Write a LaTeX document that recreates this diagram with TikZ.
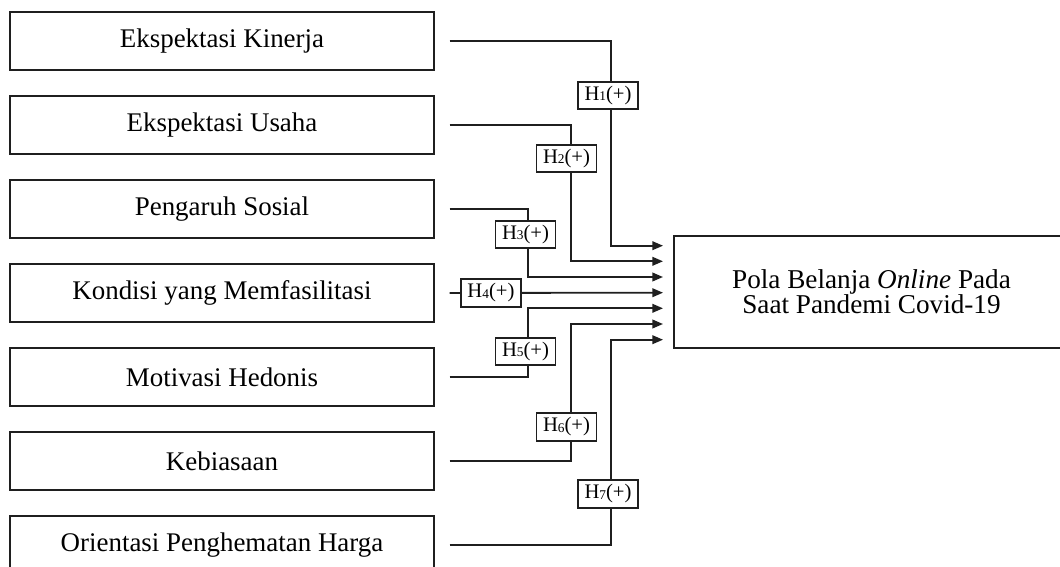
\documentclass[tikz,border=0pt]{standalone}
\usepackage{fontspec}
\setmainfont{Liberation Serif}
\usetikzlibrary{arrows.meta}
\begin{document}
\begin{tikzpicture}[x=0.75pt,y=-0.75pt,
  lw/.style={line width=1.35pt,draw=black!88},
  varbox/.style={draw,lw,minimum width=318pt,minimum height=43.5pt,inner sep=0pt,
    font=\fontsize{20.2}{24}\selectfont},
  depbox/.style={draw,lw,minimum width=296pt,minimum height=84pt,inner sep=0pt,align=center,
    font=\fontsize{20.4}{18.8}\selectfont},
  hbox/.style={draw,lw,fill=white,minimum width=45pt,minimum height=20.5pt,inner sep=0pt,
    font=\fontsize{15.5}{17}\selectfont},
  conn/.style={lw,shorten <=11pt,-{Triangle[length=8pt,width=6.5pt]}},
]
\useasboundingbox (0,0) rectangle (1060,567);
\clip (0,0) rectangle (1060,567);
\newcommand{\hyp}[1]{H\raisebox{-0.3pt}{\fontsize{10}{10}\selectfont #1}(+)}
% left boxes
\node[varbox] (b1) at (222,41) {Ekspektasi Kinerja};
\node[varbox] (b2) at (222,125) {Ekspektasi Usaha};
\node[varbox] (b3) at (222,209) {Pengaruh Sosial};
\node[varbox] (b4) at (222,293) {Kondisi yang Memfasilitasi};
\node[varbox] (b5) at (222,377) {Motivasi Hedonis};
\node[varbox] (b6) at (222,461) {Kebiasaan};
\node[varbox] (b7) at (222,545) {Orientasi Penghematan Harga};
% right box
\node[depbox] (P) at (871.5,292) {Pola Belanja \textit{Online} Pada\\Saat Pandemi Covid-19};
% targets
\coordinate (t1) at (663,245.7);
\coordinate (t2) at (663,261.3);
\coordinate (t3) at (663,277);
\coordinate (t4) at (663,292.7);
\coordinate (t5) at (663,308.3);
\coordinate (t6) at (663,324);
\coordinate (t7) at (663,339.7);
% bends
\coordinate (k1) at (611,245.7);
\coordinate (k2) at (571,261.3);
\coordinate (k3) at (528,277);
\coordinate (k5) at (528,308.3);
\coordinate (k6) at (571,324);
\coordinate (k7) at (611,339.7);
% connectors
\draw[conn] (b1.east) -| (k1) -- (t1);
\draw[conn] (b2.east) -| (k2) -- (t2);
\draw[conn] (b3.east) -| (k3) -- (t3);
\draw[conn] (b4.east) -- (t4);
\draw[conn] (b5.east) -| (k5) -- (t5);
\draw[conn] (b6.east) -| (k6) -- (t6);
\draw[conn] (b7.east) -| (k7) -- (t7);
% hypothesis labels
\node[hbox] (h1) at (608,95.5) {\hyp{1}};
\node[hbox] (h2) at (566.5,158.5) {\hyp{2}};
\node[hbox] (h3) at (525.5,234.5) {\hyp{3}};
\node[hbox] (h4) at (491,293) {\hyp{4}};
\node[hbox] (h5) at (525.5,351.5) {\hyp{5}};
\node[hbox] (h6) at (566.5,427) {\hyp{6}};
\node[hbox] (h7) at (608,494) {\hyp{7}};
\end{tikzpicture}
\end{document}
